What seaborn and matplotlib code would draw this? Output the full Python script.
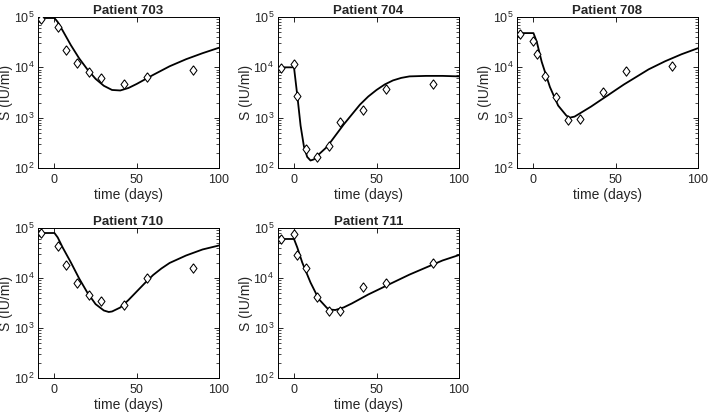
import numpy as np
import pandas as pd
import matplotlib
matplotlib.use('Agg')
import matplotlib.pyplot as plt
import seaborn as sns
from matplotlib.ticker import FuncFormatter, LogLocator, NullFormatter

# ─── Data: measured viral load (diamonds) ─────────────────────────────────────
patients = ['703', '704', '708', '710', '711']

obs_t_703 = [-8, 2, 7, 14, 21, 28, 42, 56, 84]
obs_s_703 = [93000, 63000, 22000, 12000, 8100, 6200, 4600, 6500, 8700]
obs_t_704 = [-8, 0, 2, 7, 14, 21, 28, 42, 56, 84]
obs_s_704 = [9900, 11800, 2700, 235, 167, 270, 830, 1450, 3700, 4600]
obs_t_708 = [-8, 0, 2, 7, 14, 21, 28, 42, 56, 84]
obs_s_708 = [47000, 34000, 18000, 6600, 2600, 880, 930, 3300, 8300, 10700]
obs_t_710 = [-8, 2, 7, 14, 21, 28, 42, 56, 84]
obs_s_710 = [78000, 44000, 18000, 7800, 4600, 3400, 2900, 9800, 16000]
obs_t_711 = [-8, 0, 2, 7, 14, 21, 28, 42, 56, 84]
obs_s_711 = [60000, 77000, 29000, 16000, 4100, 2150, 2150, 6500, 7900, 20000]

# ─── Data: model fit curves ───────────────────────────────────────────────────
fit_t_703 = [-10, 0, 2, 5, 10, 15, 20, 25, 30, 35, 40, 45, 50, 60, 70, 80, 90, 100]
fit_s_703 = [95500, 95500, 79400, 53700, 27500, 15100, 9100, 5900, 4300, 3550,
             3470, 3890, 4680, 7080, 10500, 14500, 19100, 24500]
fit_t_704 = [-10, 0, 2, 4, 6, 8, 10, 12, 15, 20, 25, 30, 35, 40, 45, 50, 55, 60,
             65, 70, 80, 90, 100]
fit_s_704 = [10000, 10000, 2750, 690, 270, 166, 141, 148, 186, 263, 437, 724, 1150,
             1820, 2630, 3550, 4570, 5500, 6170, 6610, 6760, 6760, 6610]
fit_t_708 = [-10, 0, 2, 5, 10, 15, 20, 22, 25, 30, 35, 40, 45, 50, 55, 60, 70, 80, 90, 100]
fit_s_708 = [47900, 47900, 32400, 12900, 4070, 1740, 1100, 1000, 1050, 1320, 1660,
             2140, 2750, 3550, 4570, 5750, 9120, 13200, 18200, 24000]
fit_t_710 = [-10, 0, 2, 5, 10, 15, 20, 25, 30, 33, 35, 40, 45, 50, 55, 60, 65, 70,
             80, 90, 100]
fit_s_710 = [79400, 79400, 64600, 40700, 20400, 9800, 5100, 3000, 2240, 2090, 2140,
             2570, 3630, 5370, 7940, 11500, 15500, 20000, 28200, 37200, 44700]
fit_t_711 = [-10, 0, 2, 5, 10, 15, 20, 22, 25, 30, 35, 40, 45, 50, 55, 60, 70, 80, 90, 100]
fit_s_711 = [60300, 60300, 40700, 20400, 8130, 3800, 2510, 2340, 2290, 2570, 3090,
             3800, 4680, 5620, 6760, 8130, 11700, 16200, 22400, 28800]

obs_t = [obs_t_703, obs_t_704, obs_t_708, obs_t_710, obs_t_711]
obs_s = [obs_s_703, obs_s_704, obs_s_708, obs_s_710, obs_s_711]
fit_t = [fit_t_703, fit_t_704, fit_t_708, fit_t_710, fit_t_711]
fit_s = [fit_s_703, fit_s_704, fit_s_708, fit_s_710, fit_s_711]

# ─── Style ────────────────────────────────────────────────────────────────────
sns.set_style('ticks')
plt.rcParams['font.family'] = ['Liberation Sans', 'DejaVu Sans']
plt.rcParams['mathtext.default'] = 'regular'
plt.rcParams['axes.linewidth'] = 0.7

# MATLAB-like diamond: a bit narrower than tall
diamond = [(0, 1), (0.74, 0), (0, -1), (-0.74, 0), (0, 1)]

fig = plt.figure(figsize=(7.09, 4.13), dpi=100)

W, H = 709, 413
# axes boxes in pixels: (left, top, right, bottom)
boxes = [(38, 17, 219, 168), (277.5, 17, 459, 168), (517, 17, 698, 168),
         (38, 228, 219, 378), (277.5, 228, 459, 378)]

for i, pid in enumerate(patients):
    l, t, r, b = boxes[i]
    ax = fig.add_axes([l / W, 1 - b / H, (r - l) / W, (b - t) / H])

    sns.lineplot(x=fit_t[i], y=fit_s[i], ax=ax, color='black', lw=1.3,
                 sort=False, estimator=None, zorder=2)
    sns.scatterplot(x=obs_t[i], y=obs_s[i], ax=ax, marker=diamond, s=46,
                    color='white', edgecolor='black', linewidth=0.75, zorder=3)

    ax.set_yscale('log')
    ax.set_xlim(-10, 100)
    ax.set_ylim(1e2, 1e5)
    ax.set_xticks([0, 50, 100])
    ax.yaxis.set_major_locator(LogLocator(base=10, numticks=10))
    ax.yaxis.set_minor_locator(LogLocator(base=10, subs=np.arange(2, 10), numticks=10))
    ax.yaxis.set_major_formatter(FuncFormatter(lambda v, p: r'$10^{%d}$' % round(np.log10(v))))
    ax.yaxis.set_minor_formatter(NullFormatter())

    ax.tick_params(which='both', direction='in', top=True, right=True,
                   labelsize=9, color='black')
    ax.tick_params(axis='x', pad=4.5)
    ax.tick_params(axis='y', pad=2.5)
    ax.tick_params(which='major', length=3.5, width=0.6)
    ax.tick_params(which='minor', length=2, width=0.5)

    ax.set_title(f'Patient {pid}', fontsize=9.5, fontweight='bold', pad=2)
    ax.set_xlabel('time (days)', fontsize=10, labelpad=1)
    ax.set_ylabel('S (IU/ml)', fontsize=10, labelpad=0.5)
    for sp in ax.spines.values():
        sp.set_visible(True)
        sp.set_color('black')

fig.savefig('out.png', dpi=100)
